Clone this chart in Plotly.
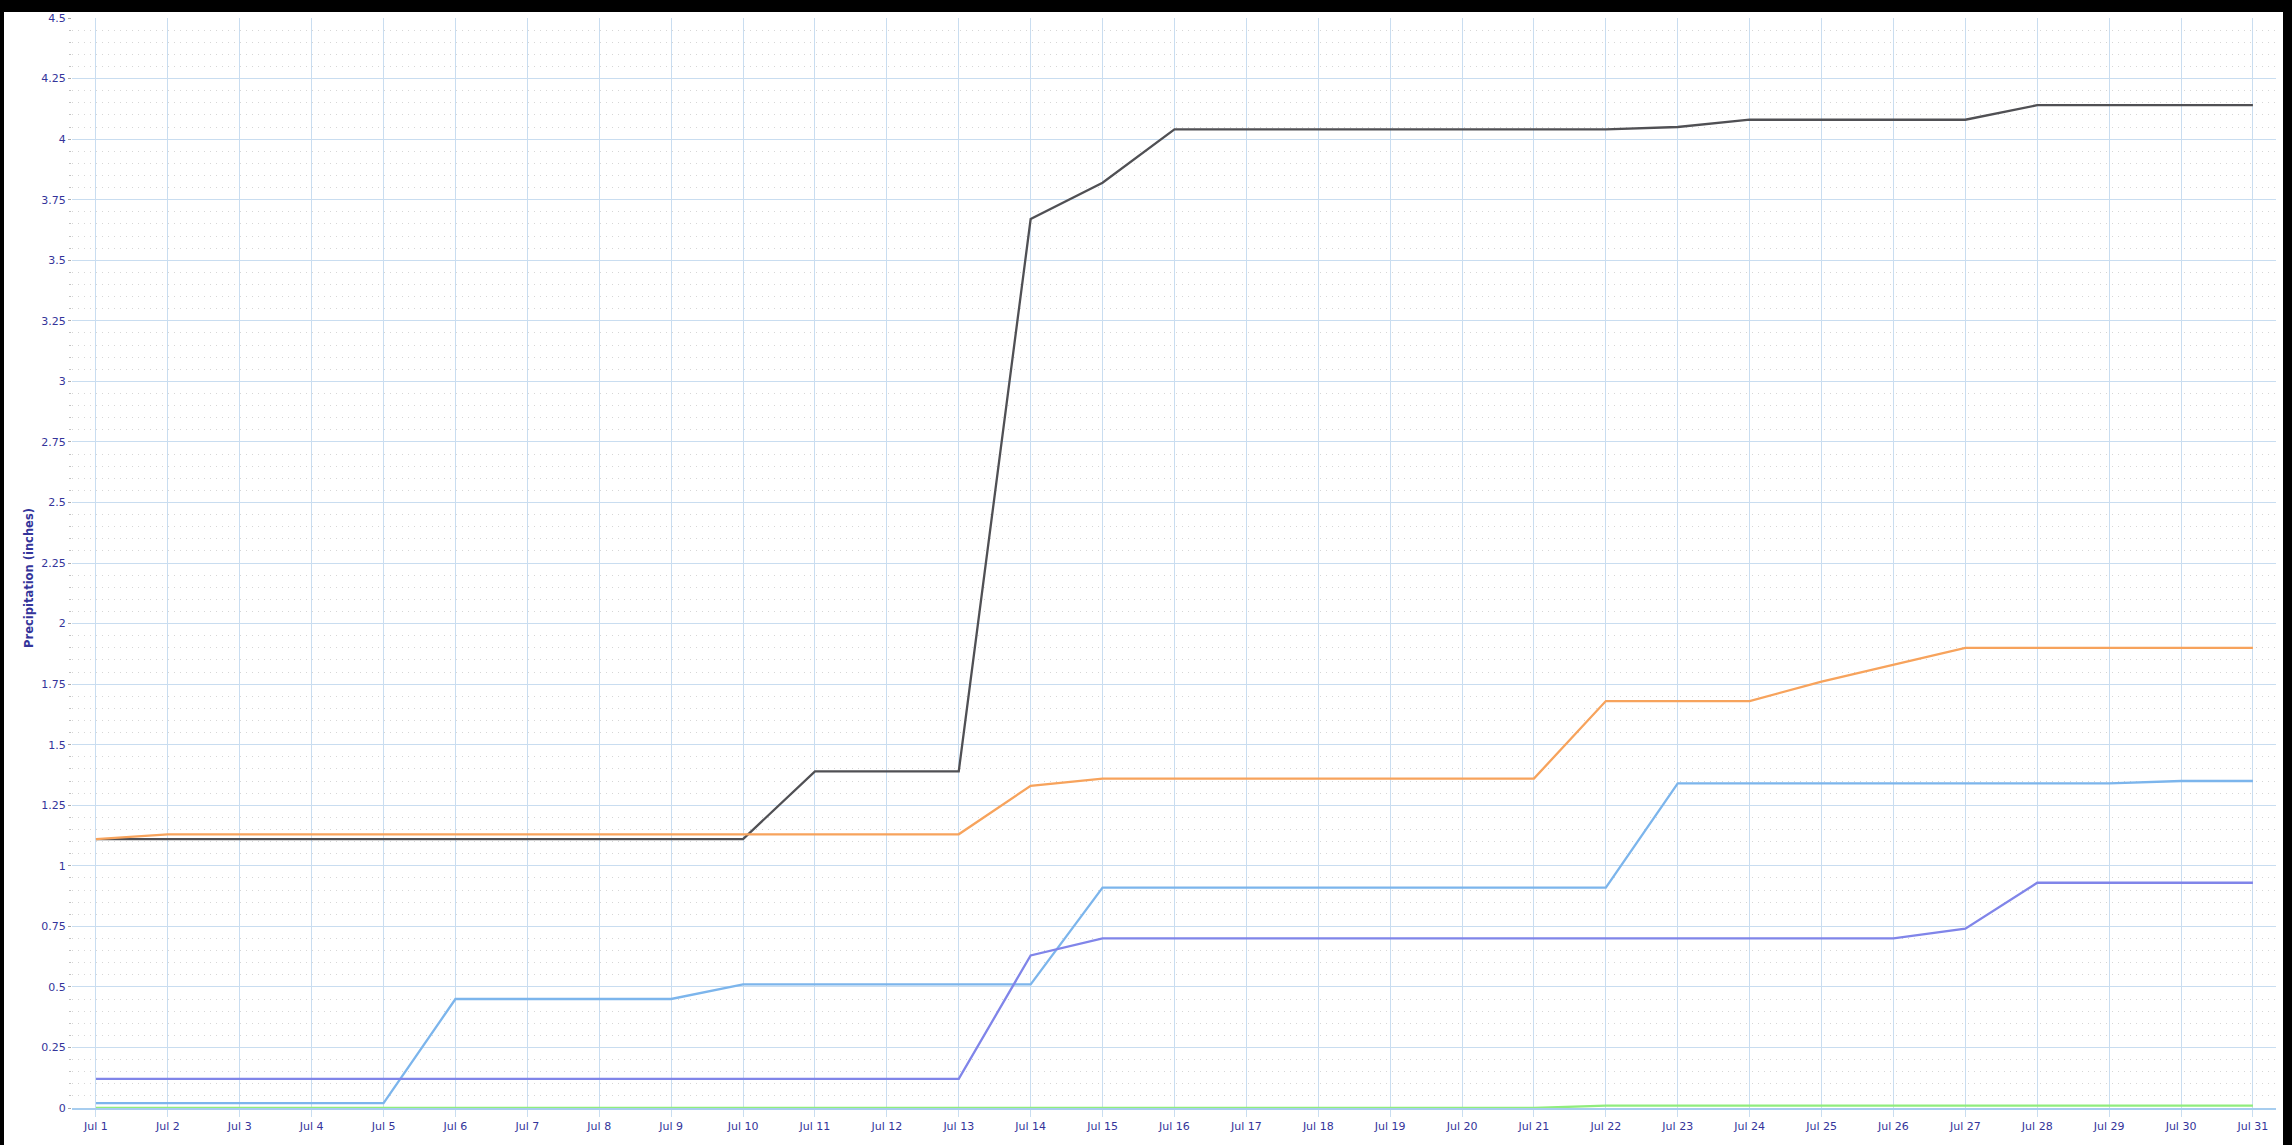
import plotly.graph_objects as go
import pandas as pd

# ---- data ----
days = pd.date_range("2019-07-01", "2019-07-31", freq="D")
series_names = ["Series 1", "Series 2", "Series 3", "Series 4", "Series 5"]
s_dark = [1.11, 1.11, 1.11, 1.11, 1.11, 1.11, 1.11, 1.11, 1.11, 1.11,
          1.39, 1.39, 1.39, 3.67, 3.82, 4.04, 4.04, 4.04, 4.04, 4.04,
          4.04, 4.04, 4.05, 4.08, 4.08, 4.08, 4.08, 4.14, 4.14, 4.14, 4.14]
s_orange = [1.11, 1.13, 1.13, 1.13, 1.13, 1.13, 1.13, 1.13, 1.13, 1.13,
            1.13, 1.13, 1.13, 1.33, 1.36, 1.36, 1.36, 1.36, 1.36, 1.36,
            1.36, 1.68, 1.68, 1.68, 1.76, 1.83, 1.90, 1.90, 1.90, 1.90, 1.90]
s_lightblue = [0.02, 0.02, 0.02, 0.02, 0.02, 0.45, 0.45, 0.45, 0.45, 0.51,
               0.51, 0.51, 0.51, 0.51, 0.91, 0.91, 0.91, 0.91, 0.91, 0.91,
               0.91, 0.91, 1.34, 1.34, 1.34, 1.34, 1.34, 1.34, 1.34, 1.35, 1.35]
s_purple = [0.12, 0.12, 0.12, 0.12, 0.12, 0.12, 0.12, 0.12, 0.12, 0.12,
            0.12, 0.12, 0.12, 0.63, 0.70, 0.70, 0.70, 0.70, 0.70, 0.70,
            0.70, 0.70, 0.70, 0.70, 0.70, 0.70, 0.74, 0.93, 0.93, 0.93, 0.93]
s_green = [0, 0, 0, 0, 0, 0, 0, 0, 0, 0,
           0, 0, 0, 0, 0, 0, 0, 0, 0, 0,
           0, 0.01, 0.01, 0.01, 0.01, 0.01, 0.01, 0.01, 0.01, 0.01, 0.01]

y_tickvals = [0, 0.25, 0.5, 0.75, 1, 1.25, 1.5, 1.75, 2, 2.25, 2.5, 2.75,
              3, 3.25, 3.5, 3.75, 4, 4.25, 4.5]
y_ticktext = ["0", "0.25", "0.5", "0.75", "1", "1.25", "1.5", "1.75", "2", "2.25",
              "2.5", "2.75", "3", "3.25", "3.5", "3.75", "4", "4.25", "4.5"]
x_ticktext = [f"Jul {d.day}" for d in days]
y_title = "Precipitation (inches)"

series = [
    (s_lightblue, "#7cb5ec"),
    (s_dark, "#505054"),
    (s_green, "#90ed7d"),
    (s_orange, "#f7a35c"),
    (s_purple, "#8085e9"),
]

W, H = 2292, 1145
L, R, T, B = 72, 16, 16, 33
pw, ph = W - L - R, H - T - B

fig = go.Figure()
for (vals, col), name in zip(series, series_names):
    fig.add_trace(go.Scatter(x=days, y=vals, mode="lines", name=name,
                             line=dict(color=col, width=2.3), showlegend=False))

grid_col = "#c9ddf0"
lab_col = "#34349a"
font_fam = "DejaVu Sans, Verdana, sans-serif"

x0 = days[0] - pd.Timedelta(hours=8)
x1 = days[-1] + pd.Timedelta(hours=7.7)

fig.update_xaxes(
    range=[x0, x1], tickvals=list(days), ticktext=x_ticktext,
    showgrid=True, gridcolor=grid_col, gridwidth=1,
    showline=True, linecolor="#a7cdef", linewidth=2,
    ticks="outside", ticklen=7, tickcolor=grid_col,
    tickfont=dict(size=11, color=lab_col, family=font_fam),
    zeroline=False,
)
fig.update_yaxes(
    range=[0, 4.5], tickvals=y_tickvals, ticktext=y_ticktext,
    showgrid=True, gridcolor=grid_col, gridwidth=1,
    ticks="outside", ticklen=3, tickcolor="#aaaaaa",
    tickfont=dict(size=11, color=lab_col, family=font_fam),
    zeroline=False, showline=False,
    minor=dict(dtick=0.05, showgrid=True, gridcolor="#d6d6d6", griddash="1px,5px",
               gridwidth=1, ticks="outside", ticklen=2, tickcolor="#c4c4c4"),
)

# white page area inside black frame
fig.add_shape(type="rect", xref="paper", yref="paper",
              x0=(4 - L) / pw, x1=(2283 - L) / pw,
              y0=-B / ph - 0.01, y1=(H - B - 10) / ph,
              fillcolor="white", line=dict(width=0), layer="below")

fig.add_annotation(text=f"<b>{y_title}</b>", xref="paper", yref="paper",
                   x=(20 - L) / pw, y=(H - B - 579) / ph, textangle=-90,
                   showarrow=False,
                   font=dict(size=11.5, color=lab_col, family=font_fam))

fig.update_layout(
    width=W, height=H, autosize=False,
    margin=dict(l=L, r=R, t=T, b=B),
    paper_bgcolor="black", plot_bgcolor="white",
)
fig.write_html(
    "out.html",
    config={"displayModeBar": False},
    post_script="document.body.style.margin='0';document.body.style.overflow='hidden';",
)
